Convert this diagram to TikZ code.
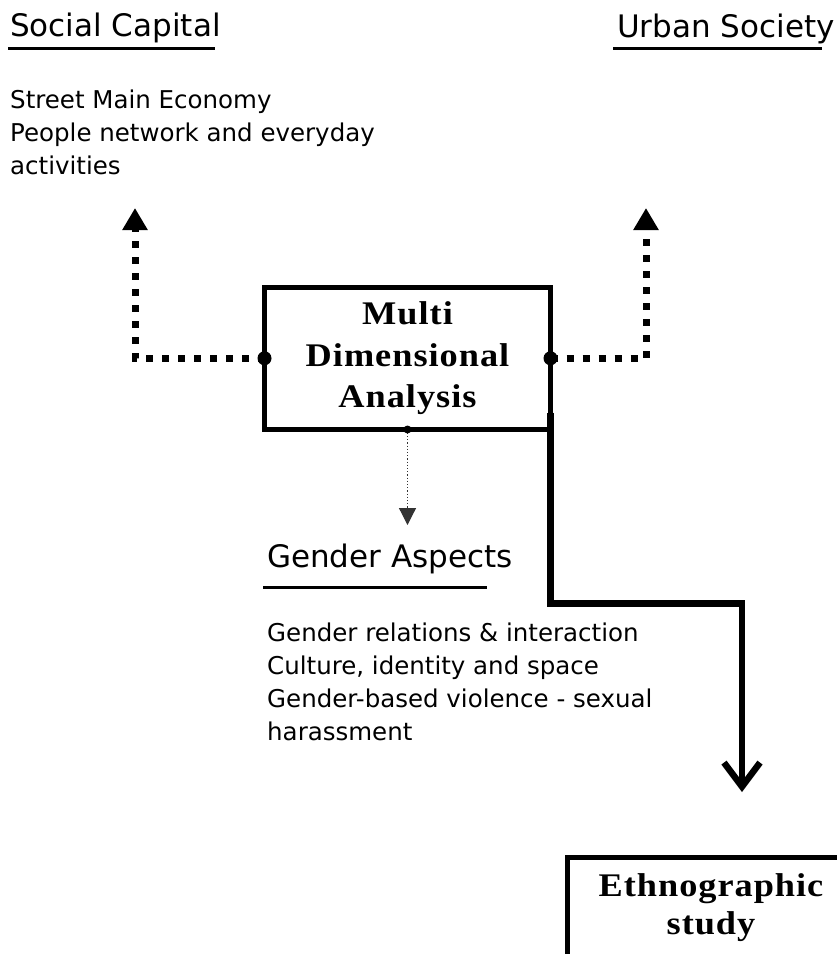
\documentclass[tikz,border=0pt]{standalone}
\usepackage{fontspec}
\setmainfont{Liberation Serif}
\newfontfamily\labelfont{DejaVu Sans}
\newfontfamily\boxfont[FakeStretch=1.1, LetterSpace=3]{Liberation Serif}
\usetikzlibrary{arrows.meta, positioning}

\begin{document}
\begin{tikzpicture}[x=1pt, y=1pt,
    heading/.style={font=\labelfont\fontsize{31}{37}\selectfont, anchor=base west, inner sep=0},
    bodytext/.style={font=\labelfont\fontsize{24.5}{33}\selectfont, align=left, anchor=north west, inner sep=0},
    stagebox/.style={draw, line width=5pt, outer sep=0, align=center, font=\boxfont\bfseries\fontsize{33}{41.5}\selectfont},
    underline/.style={line width=3pt},
    dotlink/.style={line width=7pt, dash pattern=on 7pt off 9pt, -{Triangle[length=22pt,width=24pt]}},
    thinlink/.style={line width=1.2pt, dotted, black!80, -{Triangle[length=17pt,width=17pt]}},
    mainlink/.style={line width=6.5pt, -{Straight Barb[length=24pt,width=36pt]}}]

\useasboundingbox (0,0) rectangle (837,-954);

\node[stagebox, minimum width=286, minimum height=142.5] (mda) at (407.5,-358.25) {Multi\\Dimensional\\Analysis};
\node[stagebox, line width=5.5pt, minimum width=287, minimum height=100.5,
      font=\boxfont\bfseries\fontsize{33}{38}\selectfont] (ethno) at (711,-907.75) {Ethnographic\\study};

\node[heading] (social) at (10,-36) {Social Capital};
\node[heading] (urban) at (617,-37) {Urban Society};
\node[heading] (gender) at (267,-567) {Gender Aspects};
\draw[underline] ([shift={(-2,-12)}]social.base west) -- ++(207,0);
\draw[underline] ([shift={(-4,-11)}]urban.base west) -- ++(209,0);
\draw[underline] ([shift={(-4,-20)}]gender.base west) -- ++(224,0);

\node[bodytext] (socialtext) at (10,-90) {Street Main Economy\\People network and everyday\\activities};
\node[bodytext] (gendertext) at (267,-622.4) {Gender relations \& interaction\\Culture, identity and space\\Gender-based violence - sexual\\harassment};

\coordinate (socialtip) at (135,-208);
\coordinate (urbantip) at (646,-208);
\coordinate (gendertip) at (407.5,-525);
\coordinate (turn) at (742,-603.5);
\coordinate (ethnotip) at (742,-792);

\draw[dotlink] (mda.west) -| (socialtip);
\draw[dotlink] (mda.east) -| (urbantip);
\fill (mda.west) circle (7);
\fill (mda.east) circle (7);

\draw[thinlink] (mda.south) -- (gendertip);
\fill (mda.south) circle (4);

\draw[mainlink] ([yshift=17]mda.south east) |- (turn) -- (ethnotip);
\end{tikzpicture}
\end{document}
